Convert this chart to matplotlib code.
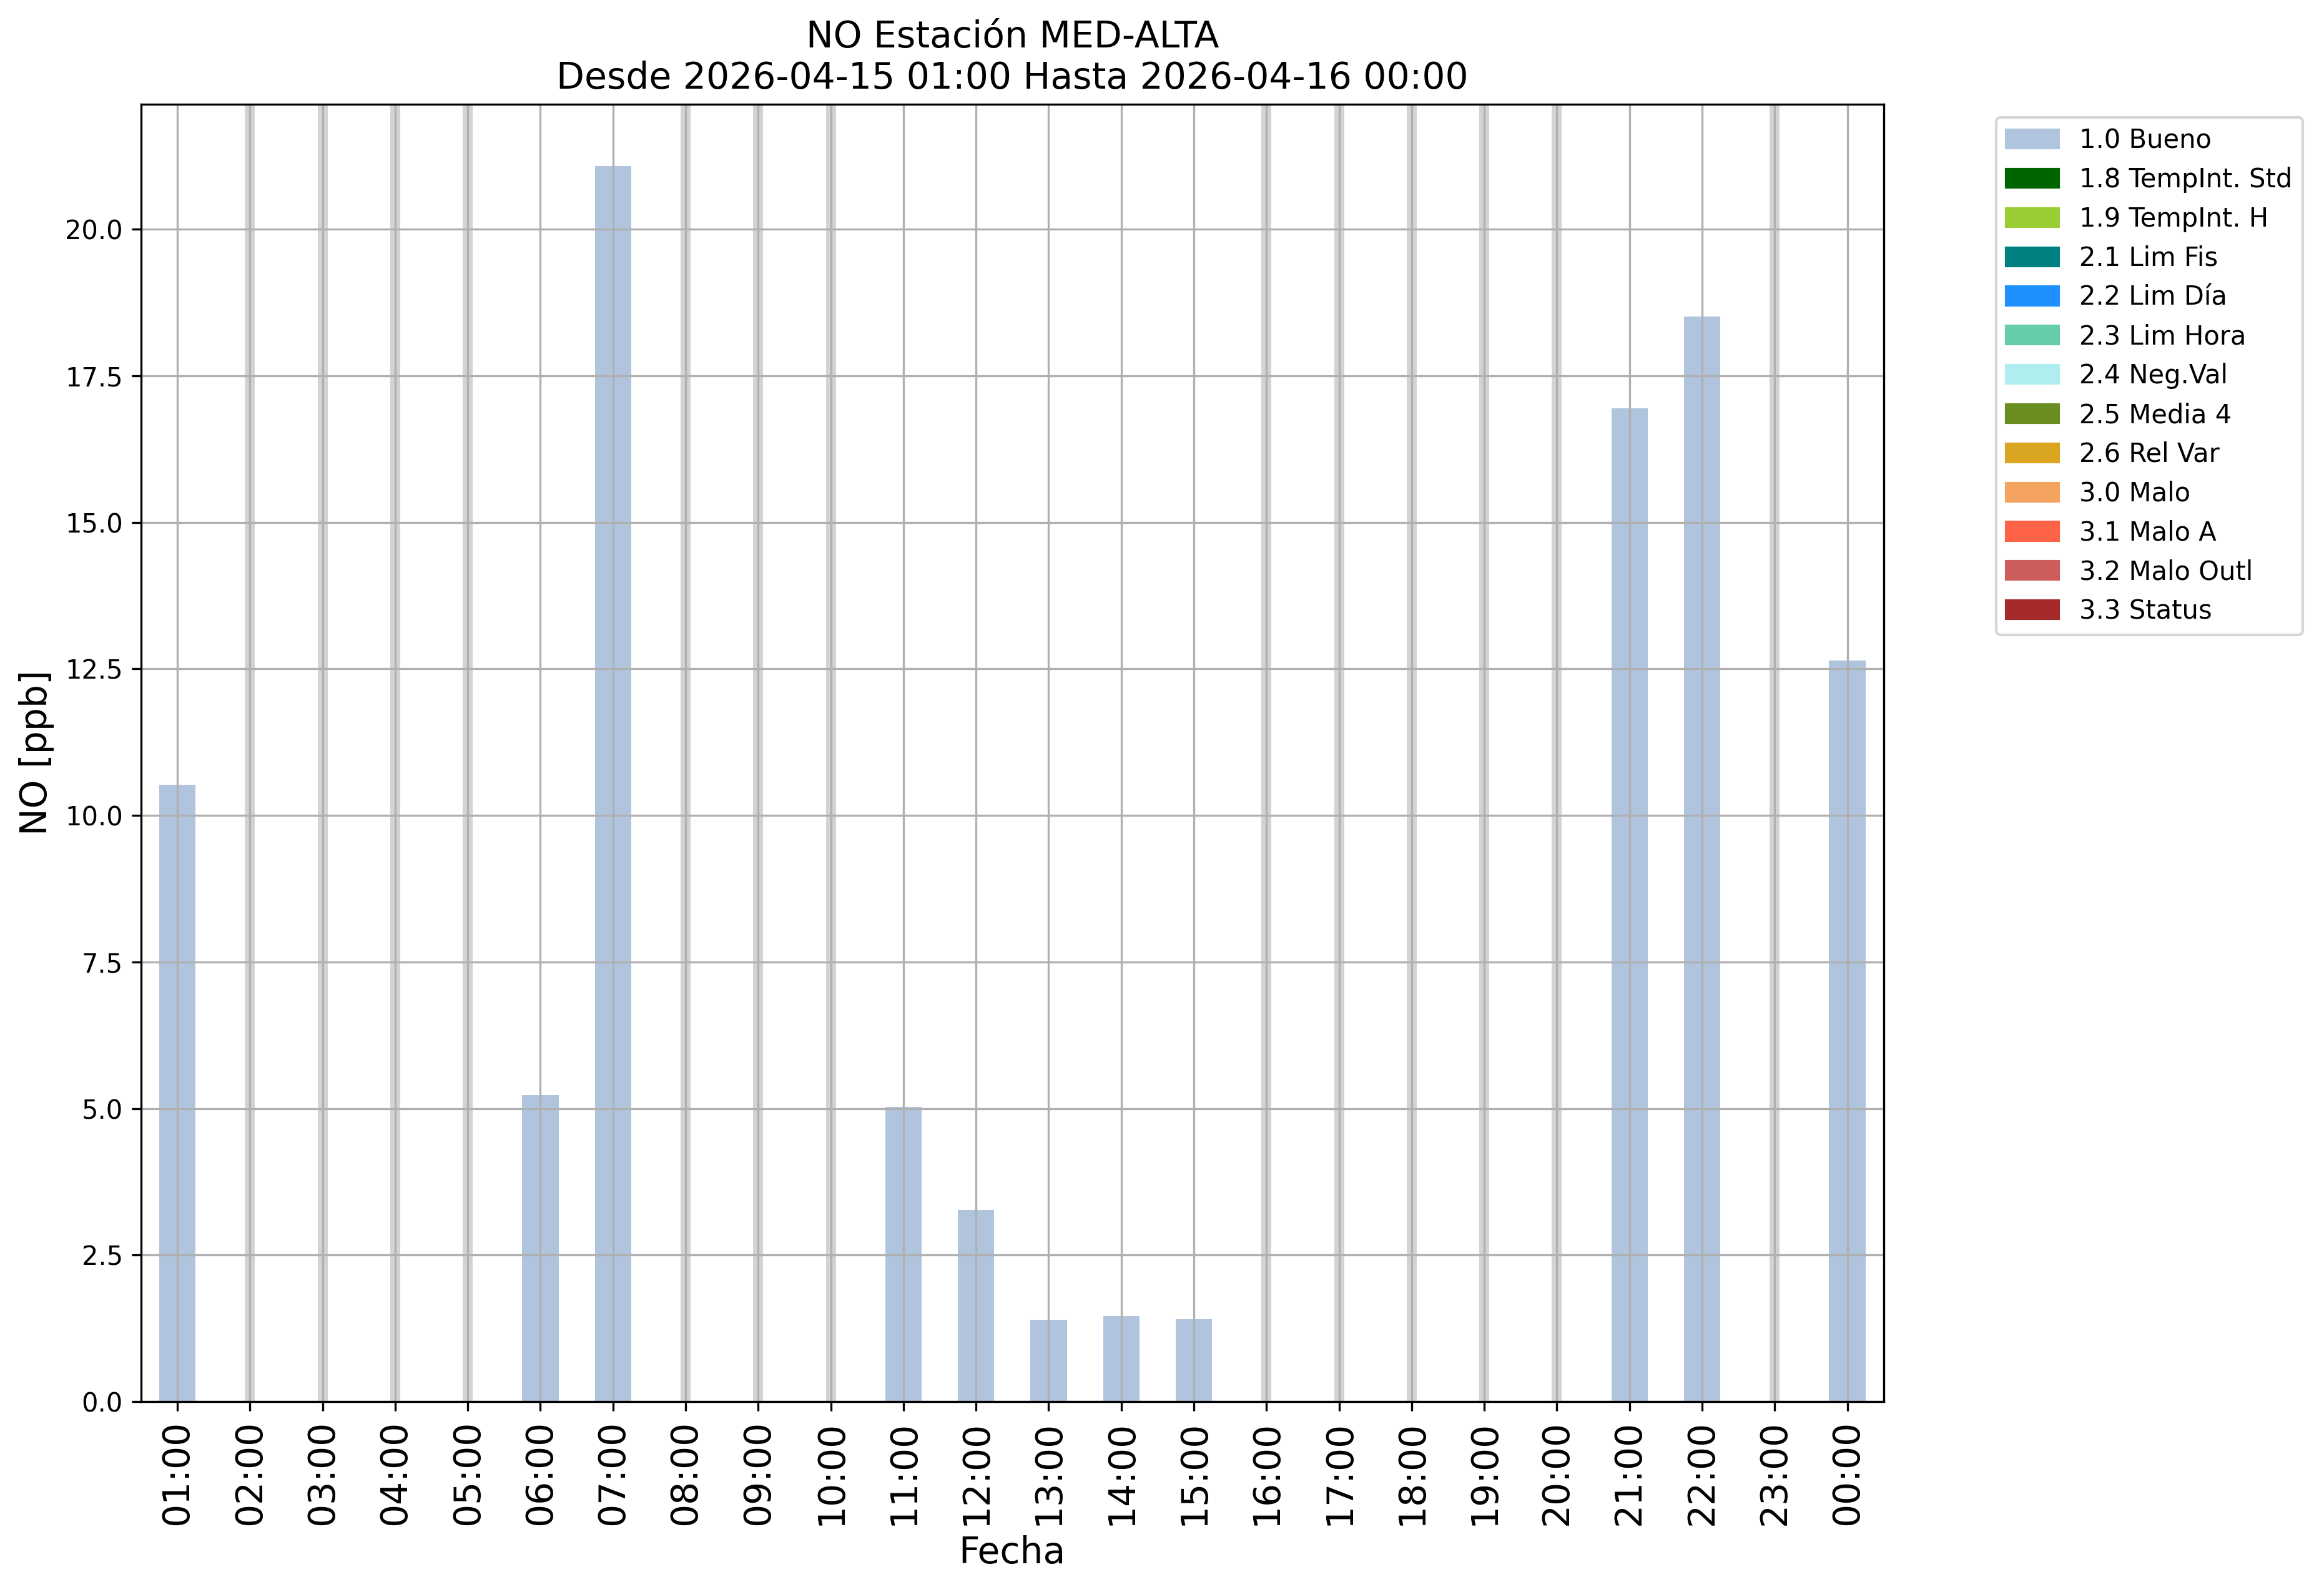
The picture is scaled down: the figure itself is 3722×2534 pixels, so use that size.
import numpy as np
import matplotlib
matplotlib.use("Agg")
import matplotlib.pyplot as plt
from matplotlib.patches import Patch

horas = ['01:00', '02:00', '03:00', '04:00', '05:00', '06:00', '07:00', '08:00',
         '09:00', '10:00', '11:00', '12:00', '13:00', '14:00', '15:00', '16:00',
         '17:00', '18:00', '19:00', '20:00', '21:00', '22:00', '23:00', '00:00']
nan = np.nan
valores = [10.52, nan, nan, nan, nan, 5.23, 21.08, nan,
           nan, nan, 5.03, 3.27, 1.40, 1.46, 1.41, nan,
           nan, nan, nan, nan, 16.95, 18.51, nan, 12.64]

flags = ['1.0 Bueno', '1.8 TempInt. Std', '1.9 TempInt. H', '2.1 Lim Fis',
         '2.2 Lim Día', '2.3 Lim Hora', '2.4 Neg.Val', '2.5 Media 4',
         '2.6 Rel Var', '3.0 Malo', '3.1 Malo A', '3.2 Malo Outl', '3.3 Status']
flag_colors = ['lightsteelblue', 'darkgreen', 'yellowgreen', 'teal',
               'dodgerblue', 'mediumaquamarine', 'paleturquoise', 'olivedrab',
               'goldenrod', 'sandybrown', 'tomato', 'indianred', 'brown']

fig = plt.figure(figsize=(3722 / 300, 2534 / 300), dpi=300)
ax = fig.add_axes([0.0607, 0.1140, 0.7498, 0.8202])

x = np.arange(len(horas))
vals = np.array(valores)
ax.bar(x, np.nan_to_num(vals), width=0.5, color='lightsteelblue')

# horas sin dato
faltan = x[np.isnan(vals)]
for i in faltan:
    ax.axvspan(i - 0.069, i + 0.069, color='lightgray', lw=0)

ax.set_xlim(-0.5, len(horas) - 0.5)
ax.set_ylim(0, np.nanmax(vals) * 1.05)
ax.set_xticks(x)
ax.set_xticklabels(horas, rotation=90, fontsize=14)
ax.grid(True)
ax.set_xlabel('Fecha', fontsize=14)
ax.set_ylabel('NO [ppb]', fontsize=14)
ax.set_title('NO Estación MED-ALTA\nDesde 2026-04-15 01:00 Hasta 2026-04-16 00:00', fontsize=14)

handles = [Patch(color=c) for c in flag_colors]
ax.legend(handles, flags, bbox_to_anchor=(1.057, 1), loc='upper left')

fig.savefig('out.png', dpi=300)
